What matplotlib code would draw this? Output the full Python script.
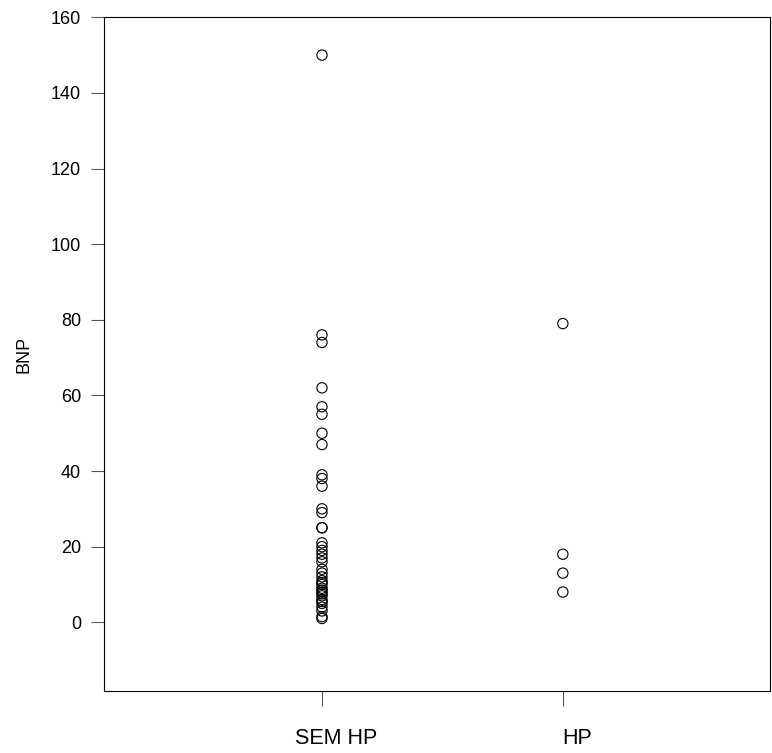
import matplotlib
matplotlib.use("Agg")
import matplotlib.pyplot as plt
from matplotlib.transforms import ScaledTranslation

categories = ["SEM HP", "HP"]
sem_hp = [150, 76, 74, 62, 57, 55, 50, 47, 39, 38, 36, 30, 29, 25, 25,
          21, 20, 19, 18, 17, 16, 14, 13, 12, 11, 10.5, 10, 9, 8.5, 8,
          7.5, 7, 6, 5.5, 5, 4, 3, 1.5, 1]
hp = [79, 18, 13, 8]
yticks = [0, 20, 40, 60, 80, 100, 120, 140, 160]

plt.rcParams['font.family'] = ['Liberation Sans', 'DejaVu Sans']
fig = plt.figure(figsize=(7.72, 7.53), dpi=100)
ax = fig.add_axes([104/772, (753-690.7)/753, (770-104)/772, (690.7-17.3)/753])

for i, vals in enumerate([sem_hp, hp]):
    ax.scatter([i + 1] * len(vals), vals, s=55, facecolors='none',
               edgecolors='black', linewidths=0.8, zorder=3)

ax.set_xlim(0.095, 2.86)
ax.set_ylim(-18.1, 160)
ax.set_xticks([1, 2])
ax.set_xticklabels(categories)
ax.set_yticks(yticks)
ax.tick_params(axis='both', direction='out', width=0.8, color='#555555')
ax.tick_params(axis='x', length=10.5, pad=16, labelsize=15.5)
ax.tick_params(axis='y', length=9.5, pad=7, labelsize=13)
offset = ScaledTranslation(14/100, 0, fig.dpi_scale_trans)
for lab in ax.get_xticklabels():
    lab.set_transform(lab.get_transform() + offset)
for s in ax.spines.values():
    s.set_linewidth(0.8)
ax.set_ylabel("BNP", fontsize=13)
ax.yaxis.set_label_coords(-0.108, 0.5)

fig.savefig("out.png", dpi=100)
